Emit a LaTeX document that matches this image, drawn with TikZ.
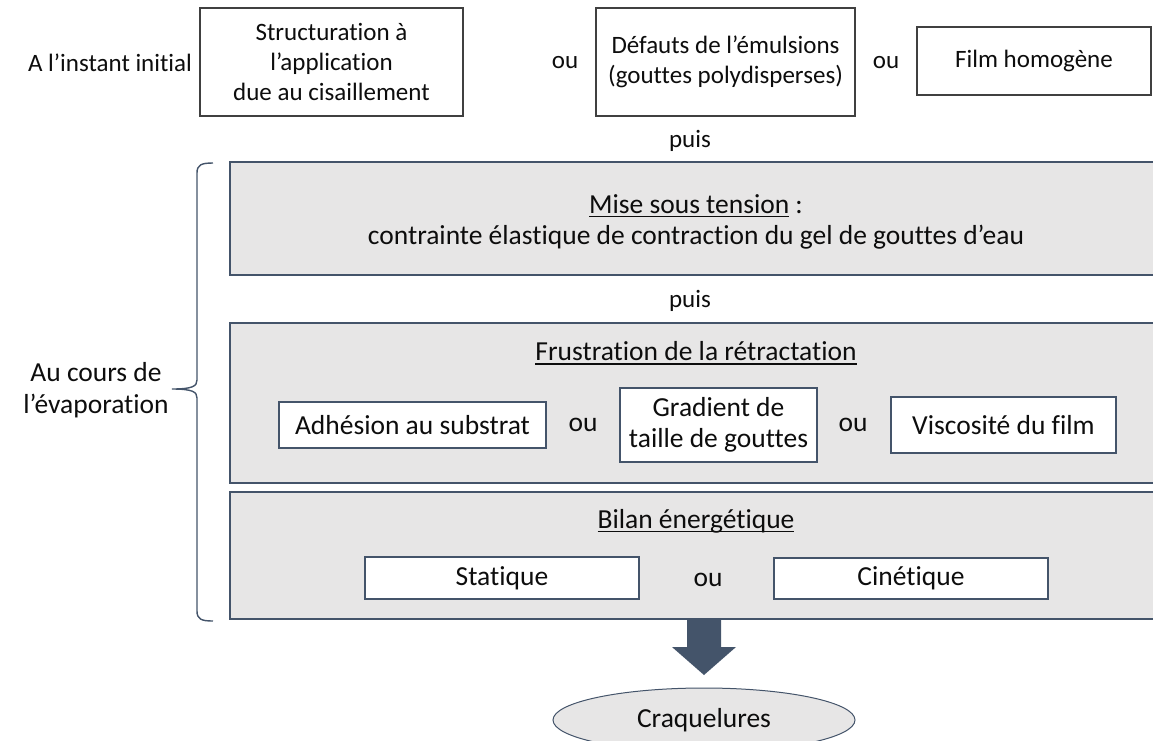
\documentclass[tikz,border=0pt]{standalone}
\usepackage{fontspec}
\setmainfont{Carlito}[Ligatures=NoCommon]
\usetikzlibrary{shapes.geometric}
\definecolor{grayfill}{HTML}{E7E6E6}
\definecolor{slate}{HTML}{44546A}
\definecolor{boxline}{HTML}{404040}
\definecolor{txt}{HTML}{0D0D0D}
\newcommand\myul[1]{\setbox0\hbox{#1}\rlap{\rule[-4pt]{\wd0}{1.4pt}}\box0\relax}
\begin{document}
\begin{tikzpicture}[x=1pt,y=-1pt,
  fa/.style={font=\fontsize{25}{30}\selectfont},
  fb/.style={font=\fontsize{27.5}{31.5}\selectfont},
  wbox/.style={draw=boxline, line width=1.3pt, fill=white, inner sep=0pt, align=center, text=txt, fa},
  gbox/.style={draw=slate, line width=1.4pt, fill=grayfill, inner sep=0pt, align=center, text=txt, fb},
  ibox/.style={draw=slate, line width=1.3pt, fill=white, inner sep=0pt, align=center, text=txt, fb},
  lbl/.style={inner sep=0pt, align=center, text=txt}]
\useasboundingbox (0,0) rectangle (1153,740);
% top row
\node[lbl,fa] (init) at (110,63) {A l’instant initial};
\node[wbox, minimum width=263pt, minimum height=108pt] (b1) at (331.5,62) {Structuration à\\l’application\\due au cisaillement};
\node[lbl,fa] (ou1) at (565,63) {ou};
\node[wbox, minimum width=259pt, minimum height=108pt] (b2) at (725.5,62) {Défauts de l’émulsions\\(gouttes polydisperses)};
\node[lbl,fa] (ou2) at (886,63) {ou};
\node[wbox, minimum width=234pt, minimum height=68pt] (b3) at (1034,61) {Film homogène};
\node[lbl,fa] (puis1) at (690,141) {puis};
% gray boxes
\node[gbox, minimum width=935pt, minimum height=113pt] (g1) at (697.5,218.5) {};
\node[lbl,fb] (t1) at (696,222) {\myul{Mise sous tension} :\\contrainte élastique de contraction du gel de gouttes d’eau};
\node[lbl,fa] (puis2) at (690,301) {puis};
\node[gbox, minimum width=935pt, minimum height=160pt] (g2) at (697.5,403) {};
\node[gbox, minimum width=935pt, minimum height=127pt] (g3) at (697.5,555.5) {};
% frustration
\node[lbl,fb] (t2) at (696,353) {\myul{Frustration de la rétractation}};
\node[ibox, minimum width=267pt, minimum height=46pt] (adh) at (412.5,425) {Adhésion au substrat};
\node[lbl,fb] (ou3) at (583,425) {ou};
\node[ibox, minimum width=197pt, minimum height=74pt] (grad) at (718.5,425) {Gradient de\\taille de gouttes};
\node[lbl,fb] (ou4) at (853,425) {ou};
\node[ibox, minimum width=225pt, minimum height=56pt] (visc) at (1003.5,425) {Viscosité du film};
% bilan
\node[lbl,fb] (t3) at (696,521) {\myul{Bilan énergétique}};
\node[ibox, minimum width=274pt, minimum height=42pt] (stat) at (502,578) {Statique};
\node[lbl,fb] (ou5) at (708,580) {ou};
\node[ibox, minimum width=274pt, minimum height=41pt] (cin) at (911,578.5) {Cinétique};
% brace and side label
\node[lbl,fb] (evap) at (96,390) {Au cours de\\l’évaporation};
\coordinate (bt) at (213,163);
\coordinate (bm) at (172,389);
\coordinate (bb) at (213,621);
\draw[slate, line width=1.4pt] (bt) .. controls (201,163) and (197,165) .. (197,173) -- (197,380)
  .. controls (197,386) and (193,389) .. (bm)
  .. controls (193,389) and (197,392) .. (197,398) -- (197,611)
  .. controls (197,619) and (201,621) .. (bb);
% ellipse and arrow
\node[ellipse, draw=slate, line width=1pt, fill=grayfill, minimum width=302pt, minimum height=64pt, inner sep=0pt, text=txt, fb] (cr) at (704,720) {Craquelures};
\fill[slate] (687,619.5) -- (721,619.5) -- (721,647) -- (736,647) -- (704,675) -- (672,647) -- (687,647) -- cycle;
\end{tikzpicture}
\end{document}
